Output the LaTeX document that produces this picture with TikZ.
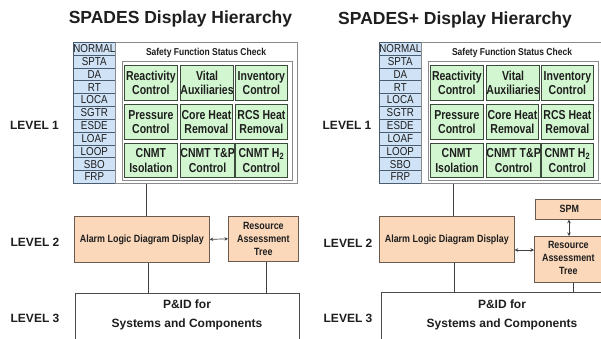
\documentclass[tikz,border=0pt]{standalone}
\usepackage{fontspec}
\setmainfont{Liberation Sans}
\newfontfamily\narrowsf{Liberation Sans}[FakeStretch=0.85]
\newfontfamily\cellsf{Liberation Sans}[FakeStretch=0.81]
\usetikzlibrary{arrows.meta}

\definecolor{sidefill}{HTML}{CFE2F6}
\definecolor{sideline}{HTML}{4A5C70}
\definecolor{cellfill}{HTML}{D2F7D0}
\definecolor{cellline}{HTML}{3C4A3C}
\definecolor{peach}{HTML}{FBD8BA}
\definecolor{peachline}{HTML}{6A5A50}
\definecolor{boxline}{HTML}{8A8A8A}
\definecolor{ink}{HTML}{1E1E1E}

\tikzset{
  title/.style={font=\bfseries\fontsize{17.5}{20}\selectfont, text=ink},
  levellabel/.style={font=\bfseries\fontsize{12}{14}\selectfont, text=ink},
  sideitem/.style={draw=sideline, fill=sidefill, line width=0.6pt,
    font=\narrowsf\fontsize{11.5}{12}\selectfont, text=ink, inner sep=0pt},
  sfcell/.style={draw=cellline, fill=cellfill, line width=0.8pt, align=center,
    font=\cellsf\bfseries\fontsize{13}{14.5}\selectfont, text=ink, inner sep=0pt},
  peachbox/.style={draw=peachline, fill=peach, line width=0.7pt, align=center,
    font=\narrowsf\bfseries\fontsize{10.5}{13}\selectfont, text=ink, inner sep=0pt},
  frame/.style={draw=boxline, line width=0.8pt, fill=white},
  link/.style={draw=ink!85, line width=0.7pt},
  dbl/.style={link, {Stealth[length=3.5pt,width=3.5pt]}-{Stealth[length=3.5pt,width=3.5pt]}},
  pidtext/.style={font=\bfseries\fontsize{12}{14}\selectfont, text=ink}
}

% Sidebar of event categories plus the Safety Function Status Check grid.
% #1 = name prefix
\newcommand\levelonepanel[1]{%
  \foreach \lab [count=\i from 0] in {NORMAL,SPTA,DA,RT,LOCA,SGTR,ESDE,LOAF,LOOP,SBO,FRP}{
    \node[sideitem, minimum width=42pt, minimum height=12.82pt, anchor=north west]
      (#1side\i) at (73, 42+12.82*\i) {\lab};
  }
  \node[frame, minimum width=182pt, minimum height=141pt, anchor=north west]
    (#1sfsc) at (115,42) {};
  \node[font=\narrowsf\bfseries\fontsize{10}{12}\selectfont, text=ink]
    (#1sfsctitle) at (206,52.5) {Safety Function Status Check};
  \node[draw=boxline, line width=1.3pt, minimum width=170pt, minimum height=119pt,
    anchor=north west] (#1grid) at (122,61) {};
  \node[sfcell, minimum width=53pt, minimum height=35pt, anchor=north west] (#1c11) at (124,65) {Reactivity\\Control};
  \node[sfcell, minimum width=52pt, minimum height=35pt, anchor=north west] (#1c12) at (180,65) {Vital\\Auxiliaries};
  \node[sfcell, minimum width=52pt, minimum height=35pt, anchor=north west] (#1c13) at (235,65) {Inventory\\Control};
  \node[sfcell, minimum width=53pt, minimum height=35pt, anchor=north west] (#1c21) at (124,104) {Pressure\\Control};
  \node[sfcell, minimum width=52pt, minimum height=35pt, anchor=north west] (#1c22) at (180,104) {Core Heat\\Removal};
  \node[sfcell, minimum width=52pt, minimum height=35pt, anchor=north west] (#1c23) at (235,104) {RCS Heat\\Removal};
  \node[sfcell, minimum width=53pt, minimum height=34pt, anchor=north west] (#1c31) at (124,143) {CNMT\\Isolation};
  \node[sfcell, minimum width=52pt, minimum height=34pt, anchor=north west] (#1c32) at (180,143) {CNMT T\&P\\Control};
  \node[sfcell, minimum width=52pt, minimum height=34pt, anchor=north west] (#1c33) at (235,143) {CNMT H\textsubscript{2}\\Control};
}

\begin{document}
\begin{tikzpicture}[x=1pt, y=-1pt]
\clip (0,0) rectangle (601,338);
\fill[white] (0,0) rectangle (601,338);

% ---------------- SPADES ----------------
\node[title] (ltitle) at (180.5,19) {SPADES Display Hierarchy};
\node[levellabel] (ll1) at (34.5,125) {LEVEL 1};
\node[levellabel] (ll2) at (35,242) {LEVEL 2};
\node[levellabel] (ll3) at (35,318) {LEVEL 3};

\levelonepanel{L}

\node[peachbox, minimum width=135pt, minimum height=46pt, anchor=north west]
  (lalarm) at (74,216) {Alarm Logic Diagram Display};
\node[peachbox, minimum width=70pt, minimum height=45pt, anchor=north west]
  (lrat) at (228,216) {Resource\\Assessment\\Tree};
\node[frame, draw=ink!80, minimum width=224pt, minimum height=55pt, anchor=north west]
  (lpid) at (75,293) {};
\node[pidtext, align=center] (lpidtext) at (187,314.5) {P\&ID for\\[5pt]Systems and Components};

\draw[link] (Lsfsc.south -| 146.5,0) -- (lalarm.north -| 146.5,0);
\draw[dbl] (lalarm.east) -- (lrat.west);
\draw[link] (lalarm.south -| 148,0) -- (lpid.north -| 148,0);
\draw[link] (lrat.south -| 266,0) -- (lpid.north -| 266,0);

% ---------------- SPADES+ ----------------
\node[title] (rtitle) at (455,20) {SPADES+ Display Hierarchy};
\node[levellabel] (rl1) at (347,125) {LEVEL 1};
\node[levellabel] (rl2) at (348,243) {LEVEL 2};
\node[levellabel] (rl3) at (348,318) {LEVEL 3};

\begin{scope}[xshift=306pt]
\levelonepanel{R}
\end{scope}

\node[peachbox, minimum width=135pt, minimum height=46pt, anchor=north west]
  (ralarm) at (379,216) {Alarm Logic Diagram Display};
\node[peachbox, minimum width=72pt, minimum height=20pt, anchor=north west]
  (rspm) at (535,199) {\hspace*{-4pt}SPM};
\node[peachbox, minimum width=72pt, minimum height=46pt, anchor=north west]
  (rrat) at (534,236) {\hspace*{-4pt}\begin{tabular}{@{}c@{}}Resource\\Assessment\\Tree\end{tabular}};
\node[frame, draw=ink!80, minimum width=240pt, minimum height=55pt, anchor=north west]
  (rpid) at (381,292) {};
\node[pidtext, align=center] (rpidtext) at (502,314.5) {P\&ID for\\[5pt]Systems and Components};

\draw[link] (Rsfsc.south -| 453,0) -- (ralarm.north -| 453,0);
\draw[dbl] (ralarm.east |- 0,250) -- (rrat.west |- 0,250);
\draw[dbl] (rspm.south -| 569,0) -- (rrat.north -| 569,0);
\draw[link] (ralarm.south -| 454,0) -- (rpid.north -| 454,0);
\draw[link] (rrat.south -| 573,0) -- (rpid.north -| 573,0);
\end{tikzpicture}
\end{document}
